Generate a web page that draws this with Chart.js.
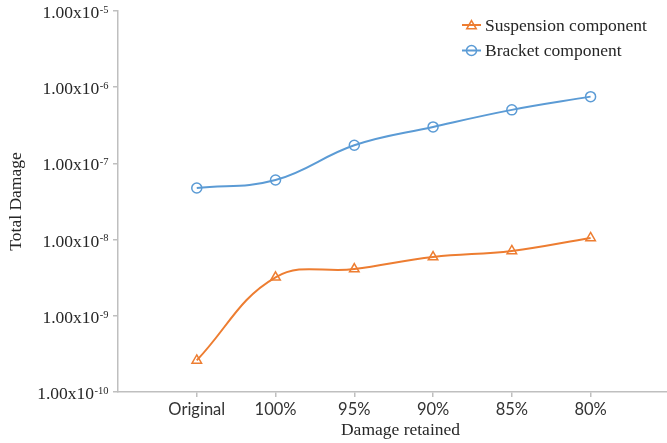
<!DOCTYPE html>
<html>
<head>
<meta charset="utf-8">
<style>
  html, body { margin: 0; padding: 0; background: #ffffff; }
  #wrap { width: 667px; height: 443px; }
</style>
<script src="https://cdn.jsdelivr.net/npm/chart.js@4/dist/chart.umd.min.js"></script>
</head>
<body>
<div id="wrap"><canvas id="chart" width="667" height="443"></canvas></div>
<script>
// Damage retention levels along the x axis
const categories = ['Original', '100%', '95%', '90%', '85%', '80%'];
// Total damage per component
const suspension = [2.6e-10, 3.2e-9, 4.1e-9, 5.9e-9, 7.1e-9, 1.05e-8];
const bracket = [4.75e-8, 6.05e-8, 1.73e-7, 3.01e-7, 5.04e-7, 7.52e-7];
// Decades shown on the logarithmic axis (1.00x10^e)
const yExponents = [-10, -9, -8, -7, -6, -5];
const seriesNames = ['Suspension component', 'Bracket component'];

const ORANGE = '#ED7D31';
const BLUE = '#5B9BD5';
const AXIS = '#bfbfbf';
const TEXT = '#262626';
const SERIF = '"Liberation Serif", "Times New Roman", serif';

function points(values) {
  return values.map((v, i) => ({ x: i, y: v }));
}

function drawMarker(ctx, style, x, y, r, color) {
  ctx.save();
  ctx.strokeStyle = color;
  ctx.lineWidth = 1.5;
  ctx.beginPath();
  if (style === 'circle') {
    ctx.arc(x, y, r, 0, Math.PI * 2);
  } else {
    let a = 0;
    ctx.moveTo(x + Math.sin(a) * r, y - Math.cos(a) * r);
    a += 2 * Math.PI / 3;
    ctx.lineTo(x + Math.sin(a) * r, y - Math.cos(a) * r);
    a += 2 * Math.PI / 3;
    ctx.lineTo(x + Math.sin(a) * r, y - Math.cos(a) * r);
    ctx.closePath();
  }
  ctx.stroke();
  ctx.restore();
}

// Tick labels with superscript exponents, axis titles and the legend
const decorations = {
  id: 'decorations',
  afterDraw(chart) {
    const ctx = chart.ctx;
    const ys = chart.scales.y;
    const area = chart.chartArea;
    ctx.save();
    ctx.fillStyle = TEXT;

    yExponents.forEach(e => {
      const py = ys.getPixelForValue(Math.pow(10, e));
      const supRight = ys.right - 9.5;
      ctx.font = '10.5px ' + SERIF;
      ctx.textAlign = 'right';
      ctx.textBaseline = 'alphabetic';
      const sup = String(e);
      const supW = ctx.measureText(sup).width;
      ctx.fillText(sup, supRight, py + 1.8);
      ctx.font = '17.5px ' + SERIF;
      ctx.fillText('1.00x10', supRight - supW - 0.5, py + 7);
    });

    // y axis title
    ctx.save();
    ctx.translate(16, (area.top + area.bottom) / 2);
    ctx.rotate(-Math.PI / 2);
    ctx.font = '17.5px ' + SERIF;
    ctx.textAlign = 'center';
    ctx.textBaseline = 'middle';
    ctx.fillText('Total Damage', 0, 0);
    ctx.restore();

    // x axis title
    ctx.font = '17.5px ' + SERIF;
    ctx.textAlign = 'center';
    ctx.textBaseline = 'alphabetic';
    ctx.fillText('Damage retained', (area.left + area.right) / 2 + 8, 435);

    // legend
    const items = [
      { name: seriesNames[0], color: ORANGE, style: 'triangle', r: 5.5 },
      { name: seriesNames[1], color: BLUE, style: 'circle', r: 5 }
    ];
    items.forEach((it, k) => {
      const ly = 25 + k * 25.5;
      ctx.strokeStyle = it.color;
      ctx.lineWidth = 2;
      ctx.beginPath();
      ctx.moveTo(462, ly);
      ctx.lineTo(481, ly);
      ctx.stroke();
      drawMarker(ctx, it.style, 471.5, it.style === 'triangle' ? ly + 1 : ly, it.r, it.color);
      ctx.fillStyle = TEXT;
      ctx.font = '17.5px ' + SERIF;
      ctx.textAlign = 'left';
      ctx.textBaseline = 'middle';
      ctx.fillText(it.name, 485, ly + 1);
    });
    ctx.restore();
  }
};

new Chart(document.getElementById('chart'), {
  type: 'line',
  data: {
    datasets: [
      {
        label: seriesNames[0],
        data: points(suspension),
        borderColor: ORANGE,
        borderWidth: 2,
        tension: 0.4,
        pointStyle: 'triangle',
        pointRadius: 5.5,
        pointBorderWidth: 1.5,
        pointBorderColor: ORANGE,
        pointBackgroundColor: 'rgba(0,0,0,0)',
        fill: false
      },
      {
        label: seriesNames[1],
        data: points(bracket),
        borderColor: BLUE,
        borderWidth: 2,
        tension: 0.4,
        pointStyle: 'circle',
        pointRadius: 5,
        pointBorderWidth: 1.5,
        pointBorderColor: BLUE,
        pointBackgroundColor: 'rgba(0,0,0,0)',
        fill: false
      }
    ]
  },
  options: {
    responsive: false,
    animation: false,
    devicePixelRatio: 1,
    layout: { autoPadding: false, padding: { top: 11, right: 0, left: 0, bottom: 0 } },
    plugins: {
      legend: { display: false },
      tooltip: { enabled: false }
    },
    scales: {
      x: {
        type: 'linear',
        min: -1,
        max: 5.97,
        afterBuildTicks: s => { s.ticks = categories.map((_, i) => ({ value: i })); },
        afterFit: s => { s.height = 51; s.paddingLeft = 0; s.paddingRight = 0; },
        ticks: {
          callback: v => categories[v],
          autoSkip: false,
          maxRotation: 0,
          padding: 3,
          color: '#333333',
          font: { family: 'Lato, "Open Sans", sans-serif', size: 16.5 }
        },
        grid: { drawOnChartArea: false, drawTicks: true, tickLength: 5, color: AXIS, lineWidth: 1.5 },
        border: { color: AXIS, width: 1.5 }
      },
      y: {
        type: 'logarithmic',
        min: 1e-10,
        max: 1e-5,
        afterBuildTicks: s => { s.ticks = yExponents.map(e => ({ value: Math.pow(10, e) })); },
        afterFit: s => { s.width = 118; s.paddingTop = 0; s.paddingBottom = 0; },
        ticks: { display: false },
        grid: { drawOnChartArea: false, drawTicks: true, tickLength: 5, color: AXIS, lineWidth: 1.5 },
        border: { color: AXIS, width: 1.5 }
      }
    }
  },
  plugins: [decorations]
});
</script>
</body>
</html>
